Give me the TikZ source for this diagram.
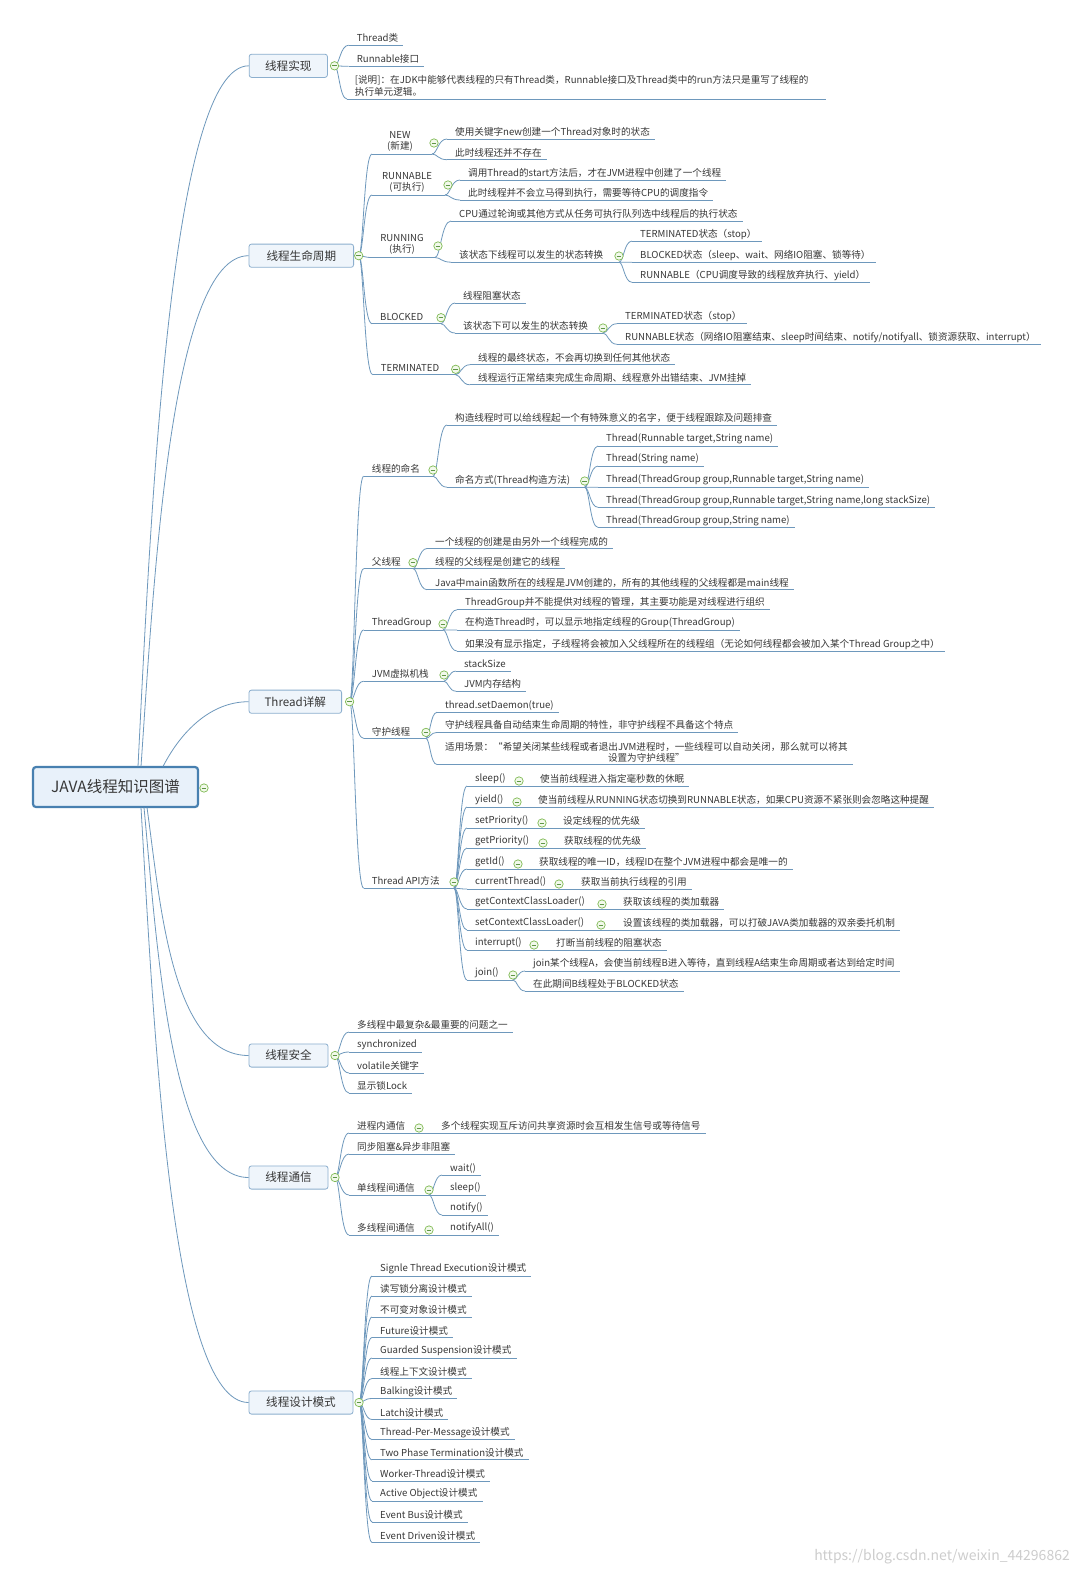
\documentclass[tikz,border=0pt]{standalone}
\usepackage{fontspec}
\setmainfont{Noto Sans CJK SC}
\usetikzlibrary{calc}
\pgfdeclarelayer{front}
\pgfsetlayers{main,front}
\definecolor{lnc}{RGB}{110,152,188}
\definecolor{txc}{RGB}{55,55,55}
\definecolor{bxd}{RGB}{140,175,206}
\definecolor{bxf}{RGB}{239,245,251}
\definecolor{rtd}{RGB}{72,128,176}
\definecolor{rtf}{RGB}{232,241,250}
\definecolor{cid}{RGB}{128,186,84}
\definecolor{cif}{RGB}{242,249,235}
\definecolor{cim}{RGB}{95,150,70}
\definecolor{wmc}{RGB}{205,205,205}
\newcommand\fsz{\fontsize{9.6}{12}\selectfont}
\newcommand\fsm{\fontsize{9.6}{11}\selectfont}
\tikzset{
 lf/.style={inner sep=0pt, anchor=west, font=\fsz, text=txc},
 ul/.style={draw=lnc, line width=0.8pt},
 bx/.style={draw=bxd, fill=bxf, rounded corners=2.5pt, line width=0.8pt, font=\fontsize{11.6}{14}\selectfont, text=txc, inner sep=0pt, minimum height=23.2pt},
 rt/.style={draw=rtd, fill=rtf, rounded corners=3pt, line width=2.2pt, font=\fontsize{15.5}{18}\selectfont, text=txc, inner sep=0pt, minimum width=165pt, minimum height=40pt},
 cirk/.style={circle, draw=cid, fill=cif, line width=0.7pt, minimum size=8.4pt, inner sep=0pt},
 cird/.style={draw=cim, line width=0.7pt},
}
\newcommand\Ci[3]{\begin{pgfonlayer}{front}\node[cirk] (#1) at (#2,#3) {};\draw[cird] ($(#1.center)+(-2.4,0)$) -- ($(#1.center)+(2.4,0)$);\end{pgfonlayer}}
\newcommand\Lf[4]{\node[lf] (#1) at (#2,#3) {#4};\coordinate (#1I) at (#2-8,#3+7);\path (#1.east) ++(5,0) coordinate (#1E);\draw[ul] (#1I) -- (#1E |- #1I);}
\newcommand\Pn[6]{\node[lf] (#1) at (#2,#3) {#4};\coordinate (#1I) at (#2-8,#3+7);\coordinate (#1O) at (#5,#3+7);\draw[ul] (#1I) -- (#1O);\Ci{#1C}{#5}{#6}}
\newcommand\Cn[2]{\draw[ul] (#1) .. controls ($(#1)!0.35!(#1 -| #2)$) and ($(#2)!0.6!(#2 -| #1)$) .. (#2);}
\begin{document}
\begin{tikzpicture}[x=1pt,y=-1pt]
\useasboundingbox (0,0) rectangle (1080,1575);
\fill[white] (0,0) rectangle (1080,1575);
% root and level-1 boxes
\node[rt] (root) at (115.5,787) {JAVA线程知识图谱};
\Ci{rootC}{204}{788}
\node[bx, minimum width=78.3pt] (b1) at (288.3,65.8) {线程实现};
\node[bx, minimum width=104.6pt] (b2) at (301.3,255.7) {线程生命周期};
\node[bx, minimum width=92.6pt] (b3) at (295.3,701.7) {Thread详解};
\node[bx, minimum width=79pt] (b4) at (288.5,1055.5) {线程安全};
\node[bx, minimum width=79pt] (b5) at (288.5,1177.5) {线程通信};
\node[bx, minimum width=104pt] (b6) at (301,1402.5) {线程设计模式};
\coordinate (r1) at (138,766.5); \coordinate (r2) at (141,766.5); \coordinate (r3) at (163,766.5);
\coordinate (r4) at (147,807.5); \coordinate (r5) at (144,807.5); \coordinate (r6) at (141,807.5);
\draw[ul] (r1) .. controls +(13,-259) and +(-78,0) .. (b1.west);
\draw[ul] (r2) .. controls +(13,-189) and +(-78,0) .. (b2.west);
\draw[ul] (r3) .. controls +(18,-35) and +(-38,0) .. (b3.west);
\draw[ul] (r4) .. controls +(13,92) and +(-78,0) .. (b4.west);
\draw[ul] (r5) .. controls +(13,137) and +(-78,0) .. (b5.west);
\draw[ul] (r6) .. controls +(13,220) and +(-78,0) .. (b6.west);
\coordinate (b1O) at (334.5,65.8); \Ci{b1C}{334.5}{65.8}
\coordinate (b2O) at (358.7,255.7); \Ci{b2C}{358.7}{255.7}
\coordinate (b3O) at (349.6,701.7); \Ci{b3C}{349.6}{701.7}
\coordinate (b4O) at (335,1055.5); \Ci{b4C}{335}{1055.5}
\coordinate (b5O) at (335,1177.5); \Ci{b5C}{335}{1177.5}
\coordinate (b6O) at (359,1402.5); \Ci{b6C}{359}{1402.5}
% ===== branch 1
\Lf{a1}{356.7}{38.2}{Thread类}
\Lf{a2}{356.7}{59.3}{Runnable接口}
\node[lf, align=left, font={\fontsize{9.6}{12}\selectfont}] (a3) at (354.7,85.4) {[说明]：在JDK中能够代表线程的只有Thread类，Runnable接口及Thread类中的run方法只是重写了线程的\\执行单元逻辑。};
\coordinate (a3I) at (347,99); \path (a3.east) ++(17,0) coordinate (a3E); \draw[ul] (a3I) -- (a3E |- a3I);
\Cn{b1O}{a1I} \Cn{b1O}{a2I} \Cn{b1O}{a3I}
% ===== branch 2
\node[lf, anchor=center, align=center, font=\fsm] (s1) at (400,141.5) {NEW\\(新建)};
\coordinate (s1I) at (372,154); \coordinate (s1O) at (432,154); \draw[ul] (s1I) -- (s1O); \Ci{s1C}{434}{143}
\Lf{s1a}{455}{132}{使用关键字new创建一个Thread对象时的状态}
\Lf{s1b}{455}{152.7}{此时线程还并不存在}
\Cn{s1O}{s1aI} \Cn{s1O}{s1bI}
\node[lf, anchor=center, align=center, font=\fsm] (s2) at (407,182.5) {RUNNABLE\\(可执行)};
\coordinate (s2I) at (372,195); \coordinate (s2O) at (445,195); \draw[ul] (s2I) -- (s2O); \Ci{s2C}{448}{185}
\Lf{s2a}{468}{173}{调用Thread的start方法后，才在JVM进程中创建了一个线程}
\Lf{s2b}{468}{193}{此时线程并不会立马得到执行，需要等待CPU的调度指令}
\Cn{s2O}{s2aI} \Cn{s2O}{s2bI}
\node[lf, anchor=center, align=center, font=\fsm] (s3) at (402,244) {RUNNING\\(执行)};
\coordinate (s3I) at (372,257.5); \coordinate (s3O) at (435,257.5); \draw[ul] (s3I) -- (s3O); \Ci{s3C}{438}{246}
\Lf{s3a}{459}{214}{CPU通过轮询或其他方式从任务可执行队列选中线程后的执行状态}
\Pn{s3b}{459}{255.2}{该状态下线程可以发生的状态转换}{619}{256}
\Cn{s3O}{s3aI} \Cn{s3O}{s3bI}
\Lf{s3ba}{640}{234.1}{TERMINATED状态（stop）}
\Lf{s3bb}{640}{255.2}{BLOCKED状态（sleep、wait、网络IO阻塞、锁等待）}
\Lf{s3bc}{640}{275.3}{RUNNABLE（CPU调度导致的线程放弃执行、yield）}
\Cn{s3bO}{s3baI} \Cn{s3bO}{s3bbI} \Cn{s3bO}{s3bcI}
\Pn{s4}{380}{316.7}{BLOCKED}{441}{317.7}
\Lf{s4a}{463}{296}{线程阻塞状态}
\Pn{s4b}{463}{326}{该状态下可以发生的状态转换}{603}{328}
\Cn{s4O}{s4aI} \Cn{s4O}{s4bI}
\Lf{s4ba}{625}{316.7}{TERMINATED状态（stop）}
\Lf{s4bb}{625}{337.3}{RUNNABLE状态（网络IO阻塞结束、sleep时间结束、notify/notifyall、锁资源获取、interrupt）}
\Cn{s4bO}{s4baI} \Cn{s4bO}{s4bbI}
\Pn{s5}{380.7}{367.7}{TERMINATED}{455.7}{369.3}
\Lf{s5a}{478}{357.7}{线程的最终状态，不会再切换到任何其他状态}
\Lf{s5b}{478}{377.8}{线程运行正常结束完成生命周期、线程意外出错结束、JVM挂掉}
\Cn{s5O}{s5aI} \Cn{s5O}{s5bI}
\Cn{b2O}{s1I} \Cn{b2O}{s2I} \Cn{b2O}{s3I} \Cn{b2O}{s4I} \Cn{b2O}{s5I}
% ===== branch 3
\Pn{t1}{371.7}{469.2}{线程的命名}{433}{470}
\Lf{t1a}{455}{418}{构造线程时可以给线程起一个有特殊意义的名字，便于线程跟踪及问题排查}
\Pn{t1b}{455}{480.2}{命名方式(Thread构造方法)}{584.7}{481}
\Cn{t1O}{t1aI} \Cn{t1O}{t1bI}
\Lf{t1ba}{606}{439}{Thread(Runnable target,String name)}
\Lf{t1bb}{606}{459.1}{Thread(String name)}
\Lf{t1bc}{606}{480.2}{Thread(ThreadGroup group,Runnable target,String name)}
\Lf{t1bd}{606}{500.3}{Thread(ThreadGroup group,Runnable target,String name,long stackSize)}
\Lf{t1be}{606}{520.4}{Thread(ThreadGroup group,String name)}
\Cn{t1bO}{t1baI} \Cn{t1bO}{t1bbI} \Cn{t1bO}{t1bcI} \Cn{t1bO}{t1bdI} \Cn{t1bO}{t1beI}
\Pn{t2}{371.7}{561.6}{父线程}{413}{562.6}
\Lf{t2a}{435}{541.5}{一个线程的创建是由另外一个线程完成的}
\Lf{t2b}{435}{561.6}{线程的父线程是创建它的线程}
\Lf{t2c}{435}{582.7}{Java中main函数所在的线程是JVM创建的，所有的其他线程的父线程都是main线程}
\Cn{t2O}{t2aI} \Cn{t2O}{t2bI} \Cn{t2O}{t2cI}
\Pn{t3}{371.7}{622.9}{ThreadGroup}{443}{624}
\Lf{t3a}{465}{602.8}{ThreadGroup并不能提供对线程的管理，其主要功能是对线程进行组织}
\Lf{t3b}{465}{622.9}{在构造Thread时，可以显示地指定线程的Group(ThreadGroup)}
\Lf{t3c}{465}{644}{如果没有显示指定，子线程将会被加入父线程所在的线程组（无论如何线程都会被加入某个Thread Group之中）}
\Cn{t3O}{t3aI} \Cn{t3O}{t3bI} \Cn{t3O}{t3cI}
\Pn{t4}{371.7}{674.2}{JVM虚拟机栈}{444}{675}
\Lf{t4a}{464}{664.1}{stackSize}
\Lf{t4b}{464}{684.2}{JVM内存结构}
\Cn{t4O}{t4aI} \Cn{t4O}{t4bI}
\Pn{t5}{371.7}{731.4}{守护线程}{426}{732.4}
\Lf{t5a}{445}{705.3}{thread.setDaemon(true)}
\Lf{t5b}{445}{725.4}{守护线程具备自动结束生命周期的特性，非守护线程不具备这个特点}
\node[lf, align=center, font=\fsm] (t5c) at (445,752) {适用场景：“希望关闭某些线程或者退出JVM进程时，一些线程可以自动关闭，那么就可以将其\\设置为守护线程”};
\coordinate (t5cI) at (437,764.5); \path (t5c.east) ++(5,0) coordinate (t5cE); \draw[ul] (t5cI) -- (t5cE |- t5cI);
\Cn{t5O}{t5aI} \Cn{t5O}{t5bI} \Cn{t5O}{t5cI}
\Pn{t6}{371.7}{881.1}{Thread API方法}{454}{882}
\Pn{u1}{475}{779}{sleep()}{519}{781}
\Lf{u1a}{540}{779}{使当前线程进入指定毫秒数的休眠}
\Pn{u2}{475}{800}{yield()}{517}{802}
\Lf{u2a}{538}{800}{使当前线程从RUNNING状态切换到RUNNABLE状态，如果CPU资源不紧张则会忽略这种提醒}
\Pn{u3}{475}{821}{setPriority()}{542}{823}
\Lf{u3a}{563}{821}{设定线程的优先级}
\Pn{u4}{475}{841}{getPriority()}{543}{843}
\Lf{u4a}{564}{841}{获取线程的优先级}
\Pn{u5}{475}{862}{getId()}{518}{864}
\Lf{u5a}{539}{862}{获取线程的唯一ID，线程ID在整个JVM进程中都会是唯一的}
\Pn{u6}{475}{882}{currentThread()}{559}{884}
\Lf{u6a}{581}{882}{获取当前执行线程的引用}
\Pn{u7}{475}{902}{getContextClassLoader()}{602}{904}
\Lf{u7a}{623}{902}{获取该线程的类加载器}
\Pn{u8}{475}{923}{setContextClassLoader()}{601}{925}
\Lf{u8a}{623}{923}{设置该线程的类加载器，可以打破JAVA类加载器的双亲委托机制}
\Pn{u9}{475}{943}{interrupt()}{534}{945}
\Lf{u9a}{556}{943}{打断当前线程的阻塞状态}
\Pn{u10}{475}{973}{join()}{513}{975}
\Lf{u10a}{533}{964}{join某个线程A，会使当前线程B进入等待，直到线程A结束生命周期或者达到给定时间}
\Lf{u10b}{533}{984}{在此期间B线程处于BLOCKED状态}
\Cn{u1O}{u1aI} \Cn{u2O}{u2aI} \Cn{u3O}{u3aI} \Cn{u4O}{u4aI} \Cn{u5O}{u5aI}
\Cn{u6O}{u6aI} \Cn{u7O}{u7aI} \Cn{u8O}{u8aI} \Cn{u9O}{u9aI}
\Cn{u10O}{u10aI} \Cn{u10O}{u10bI}
\Cn{t6O}{u1I} \Cn{t6O}{u2I} \Cn{t6O}{u3I} \Cn{t6O}{u4I} \Cn{t6O}{u5I}
\Cn{t6O}{u6I} \Cn{t6O}{u7I} \Cn{t6O}{u8I} \Cn{t6O}{u9I} \Cn{t6O}{u10I}
\Cn{b3O}{t1I} \Cn{b3O}{t2I} \Cn{b3O}{t3I} \Cn{b3O}{t4I} \Cn{b3O}{t5I} \Cn{b3O}{t6I}
% ===== branch 4
\Lf{v1}{357}{1025}{多线程中最复杂\&最重要的问题之一}
\Lf{v2}{357}{1045}{synchronized}
\Lf{v3}{357}{1066}{volatile关键字}
\Lf{v4}{357}{1086}{显示锁Lock}
\Cn{b4O}{v1I} \Cn{b4O}{v2I} \Cn{b4O}{v3I} \Cn{b4O}{v4I}
% ===== branch 5
\Pn{w1}{357}{1126}{进程内通信}{419}{1128}
\Lf{w1a}{441}{1126}{多个线程实现互斥访问共享资源时会互相发生信号或等待信号}
\Cn{w1O}{w1aI}
\Lf{w2}{357}{1147}{同步阻塞\&异步非阻塞}
\Pn{w3}{357}{1188}{单线程间通信}{429}{1190}
\Lf{w3a}{450}{1168}{wait()}
\Lf{w3b}{450}{1188}{sleep()}
\Lf{w3c}{450}{1208}{notify()}
\Cn{w3O}{w3aI} \Cn{w3O}{w3bI} \Cn{w3O}{w3cI}
\Pn{w4}{357}{1228}{多线程间通信}{429}{1230}
\Lf{w4a}{450}{1228}{notifyAll()}
\Cn{w4O}{w4aI}
\Cn{b5O}{w1I} \Cn{b5O}{w2I} \Cn{b5O}{w3I} \Cn{b5O}{w4I}
% ===== branch 6
\Lf{x1}{380}{1269}{Signle Thread Execution设计模式}
\Lf{x2}{380}{1289}{读写锁分离设计模式}
\Lf{x3}{380}{1310}{不可变对象设计模式}
\Lf{x4}{380}{1330.5}{Future设计模式}
\Lf{x5}{380}{1351}{Guarded Suspension设计模式}
\Lf{x6}{380}{1371.5}{线程上下文设计模式}
\Lf{x7}{380}{1391.5}{Balking设计模式}
\Lf{x8}{380}{1412.5}{Latch设计模式}
\Lf{x9}{380}{1432.7}{Thread-Per-Message设计模式}
\Lf{x10}{380}{1452.8}{Two Phase Termination设计模式}
\Lf{x11}{380}{1473.9}{Worker-Thread设计模式}
\Lf{x12}{380}{1494}{Active Object设计模式}
\Lf{x13}{380}{1515}{Event Bus设计模式}
\Lf{x14}{380}{1535.5}{Event Driven设计模式}
\Cn{b6O}{x1I} \Cn{b6O}{x2I} \Cn{b6O}{x3I} \Cn{b6O}{x4I} \Cn{b6O}{x5I} \Cn{b6O}{x6I} \Cn{b6O}{x7I}
\Cn{b6O}{x8I} \Cn{b6O}{x9I} \Cn{b6O}{x10I} \Cn{b6O}{x11I} \Cn{b6O}{x12I} \Cn{b6O}{x13I} \Cn{b6O}{x14I}
% watermark
\node[anchor=east, inner sep=0pt, text=wmc, font=\fontsize{14}{16}\selectfont] (wm) at (1070,1557) {https://blog.csdn.net/weixin\_44296862};
\end{tikzpicture}
\end{document}
